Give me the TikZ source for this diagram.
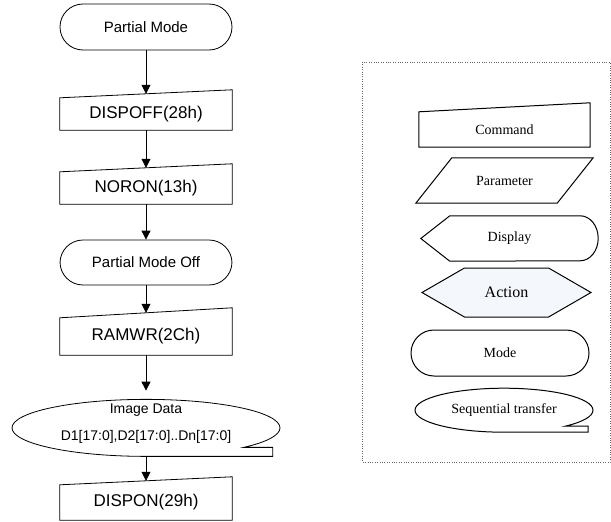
\documentclass[tikz,border=0pt]{standalone}
\usepackage{fontspec}
\setmainfont{Liberation Serif}
\setsansfont{Liberation Sans}
\usetikzlibrary{arrows.meta,shapes.geometric,shapes.symbols}

\definecolor{actfill}{RGB}{244,247,252}

\tikzset{
  flow/.style={-{Triangle[width=9pt,length=9pt]}, line width=0.8pt},
  term/.style={draw, line width=0.8pt, rectangle, rounded corners=23pt, minimum width=172pt, minimum height=46pt, font=\sffamily\fontsize{15}{18}\selectfont},
  cmdbox/.style={rectangle, minimum width=172pt, font=\sffamily\fontsize{17}{20}\selectfont},
  seqbox/.style={ellipse, minimum width=268pt, minimum height=57pt, align=center, font=\sffamily\fontsize{14}{17}\selectfont},
  keytext/.style={font=\fontsize{14}{17}\selectfont},
  keyline/.style={line width=1pt},
}

\begin{document}
\begin{tikzpicture}[x=1pt,y=1pt]
    \useasboundingbox (0,0) rectangle (611,-522);

    % Flow chart
    \node[term] (pm) at (146,-27) {Partial Mode};
    \node[cmdbox, minimum height=32pt] (dispoff) at (146,-114) {DISPOFF(28h)};
    \node[cmdbox, minimum height=32pt] (noron) at (146,-188) {NORON(13h)};
    \node[term, minimum height=45pt] (pmoff) at (146,-262.5) {Partial Mode Off};
    \node[cmdbox, minimum height=37pt] (ramwr) at (146,-336.5) {RAMWR(2Ch)};
    \node[seqbox] (img) at (146,-423.5) {Image Data\\[10pt]D1[17:0],D2[17:0]..Dn[17:0]};
    \node[cmdbox, minimum height=35pt] (dispon) at (146,-502.5) {DISPON(29h)};

    % Command boxes with slanted top
    \foreach \n/\s in {dispoff/8pt,noron/8pt,ramwr/10pt,dispon/8pt}
      \draw[line width=0.8pt] (\n.south west) -- (\n.south east) -- ([yshift=\s]\n.north east) -- (\n.north west) -- cycle;

    % Sequential transfer outline
    \draw[line width=0.8pt] (img.south) arc[start angle=270, end angle=-43.2, x radius=134pt, y radius=28.5pt] -- ++(29pt,0) |- (img.south) -- cycle;

    % Arrows
    \draw[flow] (pm) -- ([yshift=4pt]dispoff.north);
    \draw[flow] (dispoff) -- ([yshift=4pt]noron.north);
    \draw[flow] (noron) -- (pmoff);
    \draw[flow] (pmoff) -- ([yshift=5pt]ramwr.north);
    \draw[flow] (ramwr) -- (img);
    \draw[flow] (img) -- ([yshift=4pt]dispon.north);

    % Legend
    \draw[dotted, gray!80!black] (362,-62) rectangle (610,-462);

    \node[cmdbox, keytext, minimum width=171pt, minimum height=35pt] (cmdkey) at (504.5,-129.5) {Command};
    \draw[keyline] (cmdkey.south west) -- (cmdkey.south east) -- ([yshift=9pt]cmdkey.north east) -- (cmdkey.north west) -- cycle;

    \node[keytext, minimum width=141pt, minimum height=45pt] (parkey) at (504.5,-180.5) {Parameter};
    \draw[keyline] ([xshift=-18pt]parkey.south west) -- ([xshift=18pt]parkey.north west) -- ([xshift=18pt]parkey.north east) -- ([xshift=-18pt]parkey.south east) -- cycle;

    \node[keytext, minimum width=177pt, minimum height=45pt] (dispkey) at (509.5,-238.5) {Display};
    \draw[keyline] (dispkey.west) -- ([xshift=29pt]dispkey.north west) -- ([xshift=-18pt]dispkey.north east) arc[start angle=90, end angle=-90, x radius=18pt, y radius=22.5pt] -- ([xshift=29pt]dispkey.south west) -- cycle;

    \node[draw, keyline, signal, signal to=west and east, signal pointer angle=60, fill=actfill, minimum width=169pt, minimum height=49pt, font=\fontsize{16}{19}\selectfont] (actkey) at (506.5,-292.5) {Action};

    \node[term, keytext, keyline, minimum width=178pt] (modekey) at (500,-353) {Mode};

    \node[keytext, ellipse, minimum width=178pt, minimum height=44pt] (seqkey) at (504,-410) {Sequential transfer};
    \draw[keyline] (seqkey.south) arc[start angle=270, end angle=-46.7, x radius=89pt, y radius=22pt] -- ++(23pt,0) |- (seqkey.south) -- cycle;
\end{tikzpicture}
\end{document}
